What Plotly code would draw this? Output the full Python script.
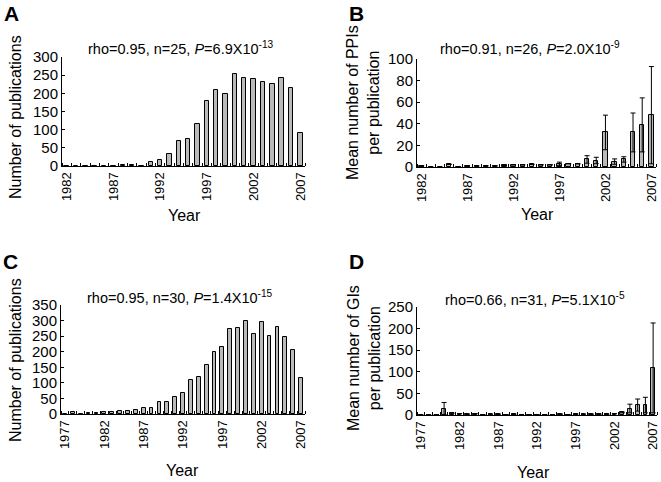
import plotly.graph_objects as go

# Panel A: publications per year (PPI)
years_a = list(range(1982, 2008))
pubs_a = [1, 0, 0, 0.5, 0, 1, 3, 4, 1, 10, 16, 33, 68, 73, 115, 178, 209, 197,
          252, 243, 240, 232, 226, 242, 214, 90]

# Panel B: mean number of PPIs per publication
years_b = list(range(1982, 2008))
mean_b = [1, 0, 0, 2.5, 0, 1, 1, 1, 1, 1.5, 2, 2, 2.5, 2, 2, 3, 3, 3,
          7, 6, 32, 5, 7, 32, 39, 48]
err_b = [None, None, None, None, None, None, None, None, None, None, None, None, None,
         None, None, 1.5, None, None, 3.5, 3, 16, 2.5, 2.5, 18, 25, 45]

# Panel C: publications per year (GI)
years_c = list(range(1977, 2008))
pubs_c = [1, 5, 1, 2, 4, 5, 5, 9, 9, 12, 18, 20, 37, 40, 54, 68, 110, 118, 157,
          200, 216, 273, 276, 298, 257, 296, 252, 279, 246, 204, 115]

# Panel D: mean number of GIs per publication
years_d = list(range(1977, 2008))
mean_d = [0, 0.5, 1, 15, 4, 3, 2, 3, 1, 2, 2, 1, 2, 1, 1, 1, 1, 1, 2, 1, 2, 2,
          2, 2, 2, 3, 6, 15, 23, 23, 109]
err_d = [None, None, None, 14, 1, None, None, None, None, None, None, None, None,
         None, None, None, None, None, None, None, None, None, None, None, None,
         None, 1, 10, 14, 18, 104]

W, H = 661, 482
FONT = "Arial, Liberation Sans, sans-serif"
BAR_FILL = "#bababa"


def fx(x):
    return x / W


def fy(y):
    return 1 - y / H


panels = [
    # axis suffix, years, values, errors, x px span, y px span, y max, y step, labelled years
    ("", years_a, pubs_a, None, (62, 305), (57, 166), 300, 50, list(range(1982, 2008, 5))),
    ("2", years_b, mean_b, err_b, (417, 656), (59, 167), 100, 20, list(range(1982, 2008, 5))),
    ("3", years_c, pubs_c, None, (61, 305), (305, 414), 350, 50, list(range(1977, 2008, 5))),
    ("4", years_d, mean_d, err_d, (417, 657), (307, 415), 250, 50, list(range(1977, 2008, 5))),
]

fig = go.Figure()
layout = {}
for key, yrs, vals, errs, (x0, x1), (y0, y1), ymax, dtick, labels in panels:
    bar = go.Bar(
        x=yrs, y=vals, width=0.48,
        marker=dict(color=BAR_FILL, line=dict(color="black", width=1)),
        xaxis="x" + key, yaxis="y" + key, showlegend=False,
    )
    if errs is not None:
        bar.error_y = dict(type="data", array=errs, color="black", thickness=1, width=2.5)
    fig.add_trace(bar)
    layout["xaxis" + key] = dict(
        domain=[fx(x0), fx(x1)], anchor="y" + key,
        range=[yrs[0] - 0.5, yrs[-1] + 0.5],
        tickmode="array", tickvals=labels, ticktext=[str(v) for v in labels],
        tickangle=-90, ticks="", tickfont=dict(size=13, color="black"),
        showline=True, linecolor="black", linewidth=1,
        showgrid=False, zeroline=False, automargin=False,
        minor=dict(tickmode="linear", tick0=0.5, dtick=1, ticks="inside",
                   ticklen=3, tickcolor="black", showgrid=False),
    )
    layout["yaxis" + key] = dict(
        domain=[fy(y1), fy(y0)], anchor="x" + key,
        range=[0, ymax], dtick=dtick, tick0=0,
        ticks="inside", ticklen=3, tickcolor="black",
        tickfont=dict(size=15, color="black"),
        showline=True, linecolor="black", linewidth=1,
        showgrid=False, zeroline=False, automargin=False,
    )

fig.update_layout(**layout)

annotations = []


def add_text(x, y, text, size, angle=0, bold=False):
    annotations.append(dict(
        x=fx(x), y=fy(y), xref="paper", yref="paper", text=f"<b>{text}</b>" if bold else text,
        showarrow=False, textangle=angle, xanchor="center", yanchor="middle",
        font=dict(size=size, color="black", family=FONT),
    ))


# panel letters
add_text(11, 13, "A", 21, bold=True)
add_text(356, 13, "B", 21, bold=True)
add_text(10, 261, "C", 21, bold=True)
add_text(356, 261, "D", 21, bold=True)

# statistics
add_text(181, 48, "rho=0.95, n=25, <i>P</i>=6.9X10<sup>-13</sup>", 14.5)
add_text(530, 48, "rho=0.91, n=26, <i>P</i>=2.0X10<sup>-9</sup>", 14.5)
add_text(180, 297, "rho=0.95, n=30, <i>P</i>=1.4X10<sup>-15</sup>", 14.5)
add_text(535, 299, "rho=0.66, n=31, <i>P</i>=5.1X10<sup>-5</sup>", 14.5)

# axis titles
add_text(15, 117, "Number of publications", 16, angle=-90)
add_text(363, 103, "Mean number of PPIs<br>per publication", 16, angle=-90)
add_text(15, 360, "Number of publications", 16, angle=-90)
add_text(364, 358, "Mean number of GIs<br>per publication", 16, angle=-90)
add_text(184, 216, "Year", 16)
add_text(537, 214, "Year", 16)
add_text(182, 470, "Year", 16)
add_text(533, 472, "Year", 16)

fig.update_layout(
    width=W, height=H,
    margin=dict(l=0, r=0, t=0, b=0),
    paper_bgcolor="white", plot_bgcolor="white",
    font=dict(family=FONT, color="black"),
    annotations=annotations,
    bargap=0,
)

# drop the default page margin so the 661x482 figure fills the window exactly
fig.write_html(
    "out.html",
    config={"displayModeBar": False},
    post_script="document.body.style.margin='0';",
)
